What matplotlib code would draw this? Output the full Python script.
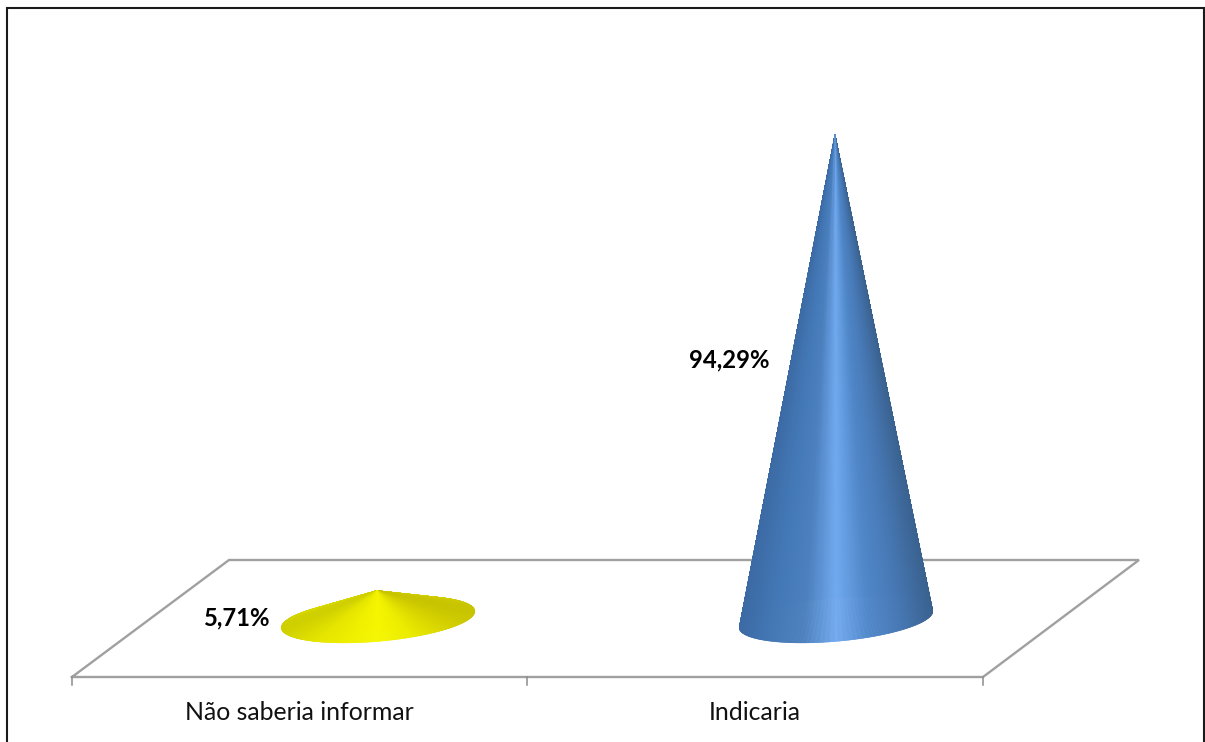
import numpy as np
import matplotlib
matplotlib.use("Agg")
import matplotlib.pyplot as plt
from matplotlib.collections import PolyCollection
from matplotlib.colors import LinearSegmentedColormap

categories = ["Não saberia informar", "Indicaria"]
values = [5.71, 94.29]
value_labels = ["5,71%", "94,29%"]

# Shading across each cone, from its left silhouette to its right silhouette
blue_shade = ["#3c6aa4", "#4378b6", "#4c80be", "#72aaf0", "#5088ca", "#4778b4", "#3a6290"]
yellow_shade = ["#d0d000", "#e4e400", "#eeee00", "#f6f600", "#ecec00", "#dad600", "#c8c400"]
shades = [yellow_shade, blue_shade]

W, H = 1205, 742
CAT_STEP = 458.0       # pixels between category centres
UNIT = 5.144           # pixels per percentage point
X0, Y0 = 378.0, 620.0  # pixel position of the first category at value 0


def dx(px):
    return (px - X0) / CAT_STEP


def dy(py):
    return (Y0 - py) / UNIT


fig = plt.figure(figsize=(W / 100, H / 100), dpi=100, facecolor="white")
ax = fig.add_axes([0, 0, 1, 1])
ax.set_xlim(dx(0), dx(W))
ax.set_ylim(dy(H), dy(0))
ax.axis("off")

# Outer chart frame, open along the bottom edge
ax.plot([dx(7), dx(7), dx(1204), dx(1204)], [dy(H + 5), dy(8), dy(8), dy(H + 5)],
        color="#1a1a1a", lw=1.5, solid_joinstyle="miter", zorder=1)

# Floor of the 3D plot and the category ticks
floor_x = [72, 983, 1139, 229, 72]
floor_y = [677, 677, 560, 560, 677]
ax.plot([dx(p) for p in floor_x], [dy(p) for p in floor_y],
        color="#a0a0a0", lw=1.7, solid_joinstyle="miter", zorder=2)
for tick in (72, 527, 983):
    ax.plot([dx(tick)] * 2, [dy(677), dy(685)], color="#8c8c8c", lw=1.1, zorder=2)

# Base ellipse axes, in pixels
MAJOR = np.array([95.0, -4.0])
MINOR = np.array([-18.0, 23.0])


def draw_cone(index, value, colors):
    cmap = LinearSegmentedColormap.from_list("cone", colors)
    cx, cy = X0 + index * CAT_STEP, Y0 - 0.5
    t = np.linspace(-np.pi, np.pi, 721)
    ex = cx + MAJOR[0] * np.cos(t) + MINOR[0] * np.sin(t)
    ey = cy + MAJOR[1] * np.cos(t) + MINOR[1] * np.sin(t)
    tip = (index + dx(X0 - 1), value)
    half_width = np.abs(ex - cx).max()
    tris, tones = [], []
    for i in range(len(t) - 1):
        tris.append([tip, (dx(ex[i]), dy(ey[i])), (dx(ex[i + 1]), dy(ey[i + 1]))])
        tones.append(0.5 + 0.25 * (ex[i] + ex[i + 1] - 2 * cx) / half_width)
    # Rear half first so the front surface covers it
    order = np.argsort(np.sin(t[:-1]))
    fills = [cmap(tones[j]) for j in order]
    ax.add_collection(PolyCollection([tris[j] for j in order], facecolors=fills,
                                     edgecolors=fills, linewidths=0.4, zorder=3))


for i, (val, col) in enumerate(zip(values, shades)):
    draw_cone(i, val, col)

plt.rcParams["font.family"] = ["Lato", "DejaVu Sans"]

# Category labels centred between the ticks
for cat, centre in zip(categories, (299.5, 754.5)):
    ax.text(dx(centre), dy(712), cat, ha="center", va="center",
            fontsize=17.9, color="#111111", zorder=4)

# Value labels beside the cones
for lab, (px, py) in zip(value_labels, ((236.5, 618), (729.5, 360))):
    ax.text(dx(px), dy(py), lab, ha="center", va="center",
            fontsize=17.2, fontweight="bold", color="black", zorder=4)

fig.savefig("out.png", dpi=100, facecolor="white")
